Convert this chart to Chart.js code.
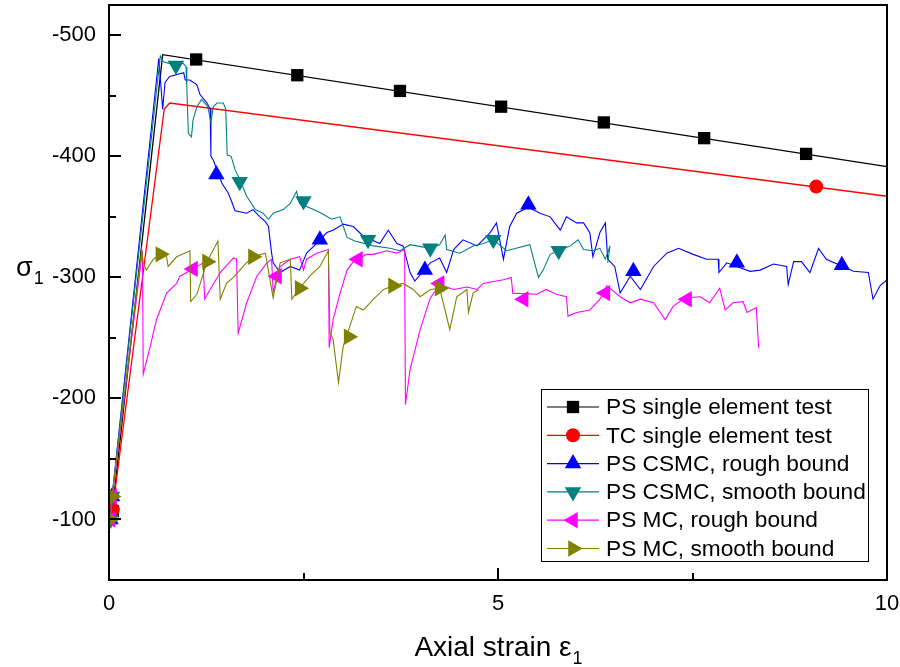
<!DOCTYPE html>
<html lang="en">
<head>
    <meta charset="UTF-8">
    <title>Axial strain vs sigma 1</title>
    <script src="https://cdn.jsdelivr.net/npm/chart.js"></script>
    <style>
        body {
            margin: 0;
            background-color: white;
        }
        canvas {
            display: block;
        }
    </style>
</head>
<body>
    <canvas id="chart" width="900" height="667"></canvas>

    <script>
        // Data: [axial strain, sigma 1]
        const psSingle = [[0.03, -100], [0.69, -484], [10, -391.5]];
        const psSingleMarks = [[0.05, -107], [1.12, -480], [2.42, -467], [3.74, -454], [5.04, -441], [6.36, -428], [7.65, -415], [8.96, -402]];

        const tcSingle = [[0.03, -100], [0.71, -439], [0.78, -444], [10, -367]];
        const tcSingleMarks = [[0.05, -108], [9.09, -375]];

        const csmcRough = [
            [0.02, -100], [0.04, -119], [0.64, -481], [0.69, -439], [0.72, -461], [0.78, -466], [0.96, -469], [0.98, -463],
            [1.04, -463], [1.13, -459], [1.17, -451], [1.26, -444], [1.30, -439], [1.31, -400], [1.34, -397], [1.45, -378],
            [1.53, -370], [1.58, -362], [1.62, -355], [1.77, -353], [1.85, -356], [1.94, -350], [2.01, -346], [2.05, -342],
            [2.07, -331], [2.09, -320], [2.11, -312], [2.20, -304], [2.33, -309], [2.45, -306], [2.54, -320], [2.67, -328],
            [2.80, -337], [2.88, -339], [3.01, -344], [3.14, -342], [3.27, -334], [3.48, -328], [3.59, -339], [3.70, -328],
            [3.78, -326], [3.87, -304], [3.93, -297], [4.13, -312], [4.25, -316], [4.34, -304], [4.43, -323], [4.55, -331],
            [4.73, -326], [4.90, -337], [4.98, -345], [5.07, -315], [5.15, -342], [5.24, -353], [5.39, -358], [5.54, -353],
            [5.67, -350], [5.80, -339], [5.88, -350], [6.01, -345], [6.10, -345], [6.18, -337], [6.22, -317], [6.31, -337],
            [6.38, -345], [6.41, -315], [6.50, -309], [6.57, -287], [6.70, -301], [6.83, -290], [7.00, -309], [7.17, -320],
            [7.32, -324], [7.51, -319], [7.68, -315], [7.83, -315], [7.84, -304], [7.94, -312], [8.24, -305], [8.37, -306],
            [8.54, -311], [8.71, -309], [8.73, -294], [8.80, -313], [8.90, -313], [9.01, -304], [9.12, -324], [9.22, -315],
            [9.57, -305], [9.76, -304], [9.82, -282], [9.91, -293], [10.0, -298]
        ];
        const csmcRoughMarks = [[0.02, -100], [0.04, -119], [1.38, -385], [2.71, -331], [4.06, -306], [5.39, -360], [6.74, -305], [8.07, -312], [9.42, -310]];

        const csmcSmooth = [
            [0.02, -100], [0.04, -119], [0.66, -483], [0.70, -478], [0.76, -477], [0.82, -476], [0.95, -477], [0.99, -474],
            [1.00, -458], [1.02, -419], [1.06, -416], [1.08, -430], [1.13, -441], [1.19, -447], [1.23, -444], [1.27, -441],
            [1.31, -428], [1.34, -441], [1.39, -444], [1.47, -444], [1.50, -439], [1.52, -401], [1.57, -400], [1.62, -389],
            [1.68, -381], [1.77, -367], [1.88, -356], [1.98, -353], [2.05, -348], [2.11, -353], [2.24, -356], [2.33, -361],
            [2.41, -371], [2.45, -361], [2.63, -356], [2.73, -353], [2.86, -348], [2.97, -350], [3.06, -333], [3.16, -330],
            [3.40, -326], [3.61, -324], [3.74, -322], [3.87, -327], [4.13, -324], [4.25, -327], [4.32, -335], [4.34, -323],
            [4.51, -320], [4.68, -326], [4.81, -328], [4.94, -331], [5.11, -322], [5.41, -327], [5.45, -317], [5.52, -300],
            [5.58, -306], [5.67, -319], [5.78, -322], [5.93, -326], [6.03, -331], [6.10, -323], [6.22, -322], [6.31, -324],
            [6.38, -315], [6.44, -326], [6.41, -312]
        ];
        const csmcSmoothMarks = [[0.02, -100], [0.04, -119], [0.86, -475], [1.68, -379], [2.50, -363], [3.33, -331], [4.13, -324], [4.94, -331], [5.78, -322]];

        const mcRough = [
            [0.02, -100], [0.04, -119], [0.43, -322], [0.44, -220], [0.53, -243], [0.61, -265], [0.74, -287], [0.87, -295],
            [0.91, -301], [1.00, -304], [1.08, -307], [1.21, -312], [1.23, -282], [1.30, -290], [1.43, -304], [1.60, -316],
            [1.64, -315], [1.66, -254], [1.77, -279], [1.90, -301], [2.03, -312], [2.09, -315], [2.11, -288], [2.20, -309],
            [2.33, -315], [2.45, -317], [2.50, -306], [2.54, -315], [2.67, -320], [2.82, -323], [2.83, -242], [2.88, -265],
            [2.97, -287], [3.06, -306], [3.14, -313], [3.31, -319], [3.40, -319], [3.57, -322], [3.70, -320], [3.80, -323],
            [3.81, -195], [3.87, -224], [4.00, -257], [4.13, -283], [4.25, -294], [4.43, -290], [4.60, -292], [4.73, -290],
            [4.81, -295], [4.98, -297], [5.07, -298], [5.17, -300], [5.19, -287], [5.50, -286], [5.62, -290], [5.75, -286],
            [5.88, -284], [5.90, -268], [6.01, -271], [6.18, -273], [6.31, -282], [6.40, -293], [6.57, -284], [6.70, -279],
            [6.83, -282], [7.00, -279], [7.15, -265], [7.25, -276], [7.40, -283], [7.60, -284], [7.72, -279], [7.85, -291],
            [7.92, -273], [8.02, -279], [8.15, -280], [8.20, -271], [8.32, -275], [8.35, -242]
        ];
        const mcRoughMarks = [[0.02, -100], [0.04, -119], [1.08, -307], [2.16, -301], [3.20, -315], [4.25, -295], [5.33, -282], [6.38, -287], [7.43, -282]];

        const mcSmooth = [
            [0.02, -100], [0.04, -119], [0.42, -323], [0.44, -312], [0.48, -306], [0.57, -315], [0.66, -319], [0.74, -317],
            [0.76, -309], [0.87, -317], [1.04, -322], [1.05, -280], [1.13, -286], [1.26, -313], [1.40, -330], [1.43, -282],
            [1.51, -295], [1.60, -300], [1.75, -311], [1.85, -317], [2.01, -320], [2.11, -283], [2.20, -312], [2.33, -315],
            [2.35, -282], [2.45, -291], [2.58, -301], [2.71, -309], [2.82, -322], [2.84, -254], [2.88, -249], [2.95, -213],
            [3.01, -243], [3.18, -276], [3.27, -273], [3.40, -282], [3.53, -290], [3.65, -293], [3.78, -295], [3.91, -290],
            [4.00, -284], [4.13, -290], [4.25, -291], [4.38, -257], [4.47, -284], [4.60, -290], [4.62, -271], [4.68, -287],
            [4.75, -290]
        ];
        const mcSmoothMarks = [[0.02, -100], [0.04, -119], [0.66, -319], [1.26, -313], [1.85, -317], [2.45, -291], [3.08, -251], [3.65, -293], [4.25, -291]];

        const seriesNames = ['PS single element test', 'TC single element test', 'PS CSMC, rough bound',
            'PS CSMC, smooth bound', 'PS MC, rough bound', 'PS MC, smooth bound'];

        // Axis ticks
        const xTicks = [0, 5, 10];
        const xMinorTicks = [2.5, 7.5];
        const yTicks = [-500, -400, -300, -200, -100];
        const yMinorTicks = [-450, -350, -250, -150];

        // Styles per series
        const colors = ['#000000', '#ff0000', '#0000ff', '#008080', '#ff00ff', '#808000'];
        const markerStyles = ['rect', 'circle', 'triangle', 'triangle', 'triangle', 'triangle'];
        const markerRotations = [0, 0, 0, 180, -90, 90];
        const markerRadius = [8.7, 7, 9.5, 9.5, 9.5, 9.5];

        const lines = [psSingle, tcSingle, csmcRough, csmcSmooth, mcRough, mcSmooth];
        const marks = [psSingleMarks, tcSingleMarks, csmcRoughMarks, csmcSmoothMarks, mcRoughMarks, mcSmoothMarks];

        const FONT = "'Liberation Sans', Arial, sans-serif";
        const toXY = arr => arr.map(p => ({ x: p[0], y: p[1] }));

        const datasets = [];
        lines.forEach((line, i) => {
            datasets.push({
                label: seriesNames[i],
                data: toXY(line),
                borderColor: colors[i],
                borderWidth: i < 2 ? 1.3 : 1.1,
                pointRadius: 0,
                showLine: true,
                order: 20 - i * 2
            });
            datasets.push({
                label: seriesNames[i] + ' markers',
                data: toXY(marks[i]),
                showLine: false,
                backgroundColor: colors[i],
                borderColor: colors[i],
                borderWidth: 0,
                pointStyle: markerStyles[i],
                pointRotation: markerRotations[i],
                pointRadius: markerRadius[i],
                order: 19 - i * 2
            });
        });

        function drawSubText(ctx, main, sub, x, y, size, align) {
            ctx.font = size + 'px ' + FONT;
            const wMain = ctx.measureText(main).width;
            ctx.font = Math.round(size * 0.65) + 'px ' + FONT;
            const wSub = ctx.measureText(sub).width;
            let x0 = x;
            if (align === 'center') x0 = x - (wMain + wSub) / 2;
            ctx.textAlign = 'left';
            ctx.textBaseline = 'alphabetic';
            ctx.font = size + 'px ' + FONT;
            ctx.fillText(main, x0, y);
            ctx.font = Math.round(size * 0.65) + 'px ' + FONT;
            ctx.fillText(sub, x0 + wMain + 1, y + size * 0.3);
        }

        // Frame, inward ticks, axis titles and legend box
        const decorations = {
            id: 'decorations',
            afterDraw(chart) {
                const { ctx, chartArea: a, scales } = chart;
                const xs = scales.x, ys = scales.y;
                ctx.save();
                ctx.strokeStyle = '#000';
                ctx.lineWidth = 2;
                ctx.strokeRect(a.left, a.top, a.right - a.left, a.bottom - a.top);

                ctx.beginPath();
                yTicks.forEach(v => {
                    const py = Math.round(ys.getPixelForValue(v));
                    ctx.moveTo(a.left, py); ctx.lineTo(a.left + 12, py);
                });
                yMinorTicks.forEach(v => {
                    const py = Math.round(ys.getPixelForValue(v));
                    ctx.moveTo(a.left, py); ctx.lineTo(a.left + 7, py);
                });
                xTicks.forEach(v => {
                    const px = Math.round(xs.getPixelForValue(v));
                    ctx.moveTo(px, a.bottom); ctx.lineTo(px, a.bottom - 12);
                });
                xMinorTicks.forEach(v => {
                    const px = Math.round(xs.getPixelForValue(v));
                    ctx.moveTo(px, a.bottom); ctx.lineTo(px, a.bottom - 7);
                });
                ctx.stroke();

                // axis titles
                ctx.fillStyle = '#000';
                drawSubText(ctx, 'Axial strain \u03b5', '1', (a.left + a.right) / 2, 656, 28, 'center');
                drawSubText(ctx, '\u03c3', '1', 16, 276, 27, 'left');

                // legend
                ctx.lineWidth = 1;
                ctx.strokeRect(541.5, 389.5, 327, 172);
                seriesNames.forEach((name, i) => {
                    const yy = 407 + i * 28.3;
                    ctx.strokeStyle = colors[i];
                    ctx.lineWidth = 1.2;
                    ctx.beginPath();
                    ctx.moveTo(547, yy); ctx.lineTo(599, yy);
                    ctx.stroke();
                    ctx.fillStyle = colors[i];
                    Chart.helpers.drawPoint(ctx, {
                        pointStyle: markerStyles[i],
                        rotation: markerRotations[i],
                        radius: markerRadius[i],
                        borderWidth: 0
                    }, 573, yy);
                    ctx.fillStyle = '#000';
                    ctx.font = '22.7px ' + FONT;
                    ctx.textAlign = 'left';
                    ctx.textBaseline = 'middle';
                    ctx.fillText(name, 606, yy + 1);
                });
                ctx.restore();
            }
        };

        const chart = new Chart(document.getElementById('chart').getContext('2d'), {
            type: 'line',
            data: { datasets: datasets },
            options: {
                responsive: false,
                devicePixelRatio: 1,
                animation: false,
                layout: { autoPadding: false, padding: { top: 5, right: 13, left: 0, bottom: 0 } },
                plugins: {
                    legend: { display: false },
                    tooltip: { enabled: false }
                },
                scales: {
                    x: {
                        type: 'linear',
                        min: 0,
                        max: 10,
                        afterBuildTicks: s => { s.ticks = xTicks.map(v => ({ value: v })); },
                        afterFit: s => { s.height = 87; s.paddingLeft = 0; s.paddingRight = 0; },
                        grid: { display: false, drawTicks: false },
                        border: { display: false },
                        ticks: {
                            padding: 11,
                            maxRotation: 0,
                            color: '#000',
                            font: { family: FONT, size: 22 }
                        }
                    },
                    y: {
                        type: 'linear',
                        min: -525,
                        max: -50,
                        reverse: true,
                        afterBuildTicks: s => { s.ticks = yTicks.map(v => ({ value: v })); },
                        afterFit: s => { s.width = 109; s.paddingTop = 0; s.paddingBottom = 0; },
                        grid: { display: false, drawTicks: false },
                        border: { display: false },
                        ticks: {
                            padding: 13,
                            color: '#000',
                            font: { family: FONT, size: 22 }
                        }
                    }
                }
            },
            plugins: [decorations]
        });
    </script>
</body>
</html>
